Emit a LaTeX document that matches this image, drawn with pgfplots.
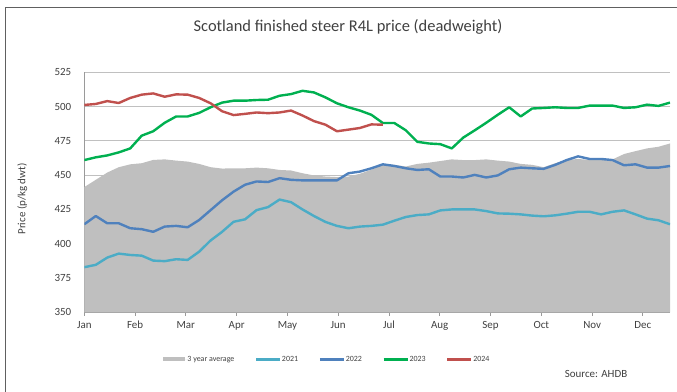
\documentclass[border=0pt]{standalone}
\usepackage{fontspec}
\setmainfont{Carlito}
\usepackage{pgfplots}
\usepackage{pgfplotstable}
\pgfplotsset{compat=1.18}
\definecolor{avggrey}{HTML}{BFBFBF}
\definecolor{cA}{HTML}{4BACC6}
\definecolor{cB}{HTML}{4F81BD}
\definecolor{cC}{HTML}{00B050}
\definecolor{cD}{HTML}{C0504D}
\definecolor{gridc}{HTML}{C0C0C0}
\definecolor{axisc}{HTML}{9A9A9A}
\definecolor{txt}{HTML}{404040}
\definecolor{framec}{HTML}{606060}

\pgfplotstableread{
w avg y2021 y2022 y2023
0 441.3 382.9 414.2 461.0
1 446.6 384.6 420.2 463.0
2 451.9 389.9 414.9 464.4
3 455.8 392.8 414.9 466.6
4 457.9 391.8 411.3 469.5
5 458.7 391.3 410.6 478.8
6 461.1 387.7 408.7 482.0
7 461.5 387.3 412.5 488.2
8 460.6 388.7 413.0 492.8
9 459.9 388.2 412.0 492.8
10 458.2 394.2 417.3 495.4
11 455.8 402.4 424.5 499.5
12 454.8 408.7 431.7 502.9
13 455.0 416.0 438.0 504.3
14 455.0 417.8 443.0 504.3
15 455.5 424.5 445.4 504.8
16 455.0 426.7 445.0 505.0
17 453.8 432.2 447.8 507.9
18 453.4 430.3 446.6 509.1
19 451.4 425.0 446.2 511.5
20 449.8 420.2 446.2 510.3
21 449.0 415.9 446.2 506.7
22 448.6 413.0 446.2 502.4
23 449.0 411.3 451.4 499.5
24 451.0 412.5 452.6 497.1
25 454.0 413.0 455.0 494.0
26 458.0 413.9 457.9 488.0
27 457.5 416.8 456.7 488.0
28 456.3 419.5 455.0 482.7
29 458.2 420.9 453.8 474.3
30 459.1 421.4 454.3 473.1
31 460.3 424.3 449.0 472.6
32 461.5 425.0 449.0 469.5
33 461.0 425.0 448.3 477.4
34 461.0 425.0 450.2 482.7
35 461.5 423.8 448.3 488.2
36 460.6 422.1 449.8 494.0
37 459.9 421.9 454.3 499.5
38 458.2 421.4 455.5 492.8
39 457.5 420.5 455.0 498.6
40 455.8 420.0 454.6 499.0
41 458.7 420.7 457.5 499.5
42 461.1 421.9 461.0 499.0
43 461.8 423.3 463.7 499.0
44 461.1 423.3 461.8 500.7
45 461.1 421.4 461.8 500.7
46 461.5 423.3 461.0 500.7
47 465.4 424.3 457.2 499.0
48 467.5 421.4 457.9 499.5
49 469.5 418.3 455.5 501.4
50 470.7 417.1 455.5 500.5
51 473.1 414.2 456.7 502.9
}\maindata

\pgfplotstableread{
w y2024
0 501.2
1 501.9
2 504.0
3 502.6
4 506.3
5 508.7
6 509.6
7 507.2
8 508.9
9 508.7
10 506.3
11 502.4
12 496.6
13 493.8
14 494.7
15 495.7
16 495.2
17 495.7
18 497.1
19 493.5
20 489.4
21 486.8
22 482.0
23 483.2
24 484.4
25 487.0
26 486.8
}\datared

\begin{document}
\begin{tikzpicture}
\useasboundingbox (0,0) rectangle (677bp,392bp);
\draw[framec, line width=0.8bp] (5bp,0) -- (5bp,385bp) -- (677bp,385bp);
\node[font=\fontsize{16.5}{19}\selectfont, text=txt] at (348bp,365bp) {Scotland finished steer R4L price (deadweight)};
\node[font=\fontsize{11}{13}\selectfont, text=txt, rotate=90] at (22.3bp,193bp) {Price (p/kg dwt)};
\node[font=\fontsize{11}{13}\selectfont, text=txt] at (596bp,17.6bp) {Source: AHDB};
\begin{axis}[
  at={(84.3bp,79.7bp)}, anchor=south west,
  scale only axis, width=585.7bp, height=240bp,
  xmin=0, xmax=51, ymin=350, ymax=525,
  axis x line*=bottom, axis y line*=left,
  axis line style={axisc, line width=0.9bp, -},
  xtick={0,4.42,8.84,13.27,17.69,22.11,26.53,30.95,35.37,39.8,44.22,48.64},
  xticklabels={Jan,Feb,Mar,Apr,May,Jun,Jul,Aug,Sep,Oct,Nov,Dec},
  ytick={350,375,400,425,450,475,500,525},
  ymajorgrids, grid style={gridc, line width=1.1bp},
  tick align=outside, major tick length=3.5bp,
  xtick style={axisc, line width=0.8bp},
  ytick style={draw=none},
  tick label style={font=\fontsize{11}{13}\selectfont, text=txt},
  /pgf/number format/assume math mode=true,
  yticklabel style={xshift=-6bp},
  xticklabel style={yshift=-2bp},
  legend columns=5,
  legend style={at={(axis description cs:0.1339,-0.1958)}, anchor=west,
    draw=none, fill=none, inner sep=0pt, column sep=0pt,
    font=\fontsize{8}{9}\selectfont, text=txt,
    nodes={inner xsep=0.5bp, inner ysep=1bp},
    /tikz/every even column/.append style={column sep=20bp}},
  every axis plot/.append style={line width=2.4bp},
]
\addplot[fill=avggrey, draw=none,
  legend image code/.code={\fill[avggrey] (0bp,-2bp) rectangle (21.6bp,2bp); \path (0bp,0bp) -- (24bp,0bp);}]
  table[x=w, y=avg] {\maindata} \closedcycle;
\addlegendentry{3 year average}
\pgfplotsset{legend image code/.code={\draw[#1, line width=2.6bp] (0bp,0bp) -- (24bp,0bp);}}
\addplot[cA, line join=round] table[x=w, y=y2021] {\maindata};
\addlegendentry{2021}
\addplot[cB, line join=round] table[x=w, y=y2022] {\maindata};
\addlegendentry{2022}
\addplot[cC, line join=round] table[x=w, y=y2023] {\maindata};
\addlegendentry{2023}
\addplot[cD, line join=round] table[x=w, y=y2024] {\datared};
\addlegendentry{2024}
\end{axis}
\end{tikzpicture}
\end{document}
